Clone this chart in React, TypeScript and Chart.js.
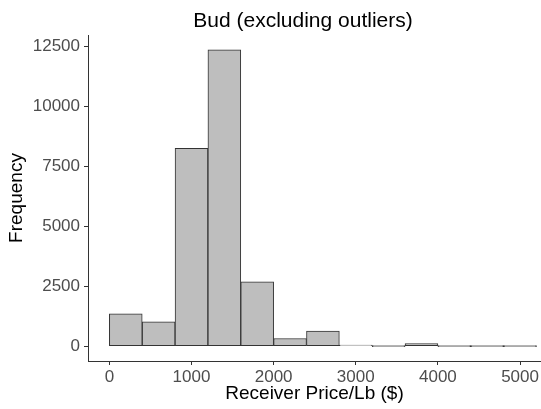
import React, { useEffect, useRef } from "react";
import { Chart, registerables } from "chart.js";

Chart.register(...registerables);

const TITLE = "Bud (excluding outliers)";
const X_TITLE = "Receiver Price/Lb ($)";
const Y_TITLE = "Frequency";

const BIN_WIDTH = 400;
const binStarts = [0, 400, 800, 1200, 1600, 2000, 2400, 2800, 3200, 3600, 4000, 4400, 4800];
const counts = [1350, 1015, 8250, 12360, 2680, 320, 625, 35, 0, 110, 0, 0, 0];

const xTicks = [0, 1000, 2000, 3000, 4000, 5000];
const yTicks = [0, 2500, 5000, 7500, 10000, 12500];

const FONT = '"Liberation Sans", Arial, Helvetica, sans-serif';

export default function App() {
  const ref = useRef<HTMLCanvasElement | null>(null);

  useEffect(() => {
    if (!ref.current) return;
    const titlePlugin = {
      id: "customTitle",
      afterDraw(chart: any) {
        const ctx = chart.ctx;
        ctx.save();
        ctx.font = `21px ${FONT}`;
        ctx.fillStyle = "#000000";
        ctx.textAlign = "center";
        ctx.textBaseline = "alphabetic";
        ctx.fillText(TITLE, 303, 27);
        ctx.restore();
      },
    };
    const chart = new Chart(ref.current, {
      type: "bar",
      data: {
        datasets: [
          {
            data: binStarts.map((s, i) => ({ x: s + BIN_WIDTH / 2, y: counts[i] })),
            backgroundColor: "#BEBEBE",
            borderColor: "#333333",
            borderWidth: 1,
            borderSkipped: false,
            barPercentage: 1,
            categoryPercentage: 1,
            minBarLength: 1,
          },
        ],
      },
      options: {
        responsive: false,
        animation: false,
        layout: { padding: { top: 35, left: 0, right: 0, bottom: 0 } },
        plugins: {
          legend: { display: false },
          title: { display: false },
          tooltip: { enabled: false },
        },
        scales: {
          x: {
            type: "linear",
            min: -260,
            max: 5255,
            offset: false,
            afterFit: (s: any) => {
              s.height = 48;
            },
            afterBuildTicks: (s: any) => {
              s.ticks = xTicks.map((v) => ({ value: v }));
            },
            grid: {
              display: true,
              offset: false,
              drawOnChartArea: false,
              drawTicks: true,
              tickLength: 4,
              color: "#333333",
              lineWidth: 1,
            },
            border: { display: true, color: "#333333", width: 1 },
            ticks: {
              color: "#4D4D4D",
              font: { family: FONT, size: 17 },
              padding: 2,
              maxRotation: 0,
              autoSkip: false,
              callback: (v: any) => String(v),
            },
            title: {
              display: true,
              text: X_TITLE,
              color: "#000000",
              font: { family: FONT, size: 19 },
              padding: { top: 0, bottom: 4 },
            },
          },
          y: {
            type: "linear",
            min: -620,
            max: 12980,
            afterFit: (s: any) => {
              s.width = 88;
            },
            afterBuildTicks: (s: any) => {
              s.ticks = yTicks.map((v) => ({ value: v }));
            },
            grid: {
              display: true,
              drawOnChartArea: false,
              drawTicks: true,
              tickLength: 4,
              color: "#333333",
              lineWidth: 1,
            },
            border: { display: true, color: "#333333", width: 1 },
            ticks: {
              color: "#4D4D4D",
              font: { family: FONT, size: 17 },
              padding: 4,
              autoSkip: false,
              callback: (v: any) => String(v),
            },
            title: {
              display: true,
              text: Y_TITLE,
              color: "#000000",
              font: { family: FONT, size: 19 },
              padding: { top: 5, bottom: 0 },
            },
          },
        },
      },
      plugins: [titlePlugin],
    });
    return () => chart.destroy();
  }, []);

  return (
    <div style={{ position: "fixed", left: 0, top: 0, width: 541, height: 409, background: "#fff" }}>
      <canvas ref={ref} width={541} height={409} style={{ display: "block" }} />
    </div>
  );
}
